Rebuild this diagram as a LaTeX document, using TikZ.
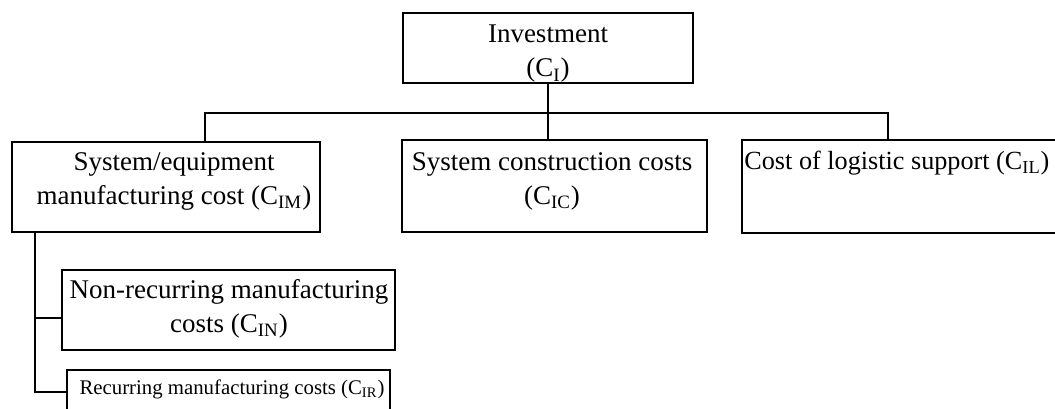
\documentclass[tikz,border=0pt]{standalone}
\usepackage{fontspec}
\setmainfont{Liberation Serif}
\begin{document}
\begin{tikzpicture}[x=0.5pt,y=-0.5pt,
  box/.style 2 args={draw, line width=1.1pt, inner sep=0pt,
    minimum width=#1*0.5pt, minimum height=#2*0.5pt},
  txt/.style={inner sep=0pt, align=center, font=\fontsize{13.5}{17}\selectfont},
  smalltxt/.style={inner sep=0pt, font=\fontsize{10.4}{12}\selectfont},
  link/.style={line width=1.1pt}]
\useasboundingbox (0,0) rectangle (1055,408);

% boxes
\node[box={290}{70}]  (inv)  at (548,48)   {};
\node[box={308}{90}]  (sys)  at (166,187)  {};
\node[box={305}{92}]  (con)  at (554.5,186) {};
\node[box={318}{93}]  (log)  at (901,186.5) {};
\node[box={333}{80}]  (nrec) at (228.5,310) {};
\node[box={323}{44}]  (rec)  at (228.5,392) {};

% labels
\node[txt] (tinv)  at (548,54)  {Investment\\(C\textsubscript{I})};
\node[txt] (tsys)  at (174,181) {System/equipment\\manufacturing cost (C\textsubscript{IM})};
\node[txt] (tcon)  at (552,181) {System construction costs\\(C\textsubscript{IC})};
\node[txt, anchor=west, font=\fontsize{13.1}{17}\selectfont] (tlog) at (744,163) {Cost of logistic support (C\textsubscript{IL})};
\node[txt] (tnrec) at (229,309) {Non-recurring manufacturing\\costs (C\textsubscript{IN})};
\node[smalltxt] (trec) at (232,389) {Recurring manufacturing costs (C\textsubscript{IR})};

% top-level connectors
\coordinate (busL) at (205,113);
\coordinate (busR) at (888,113);
\draw[link] (inv.south) -- (inv.south |- con.north);
\draw[link] (busL |- sys.north) -- (busL) -- (busR) -- (busR |- log.north);

% sub-tree under the manufacturing cost
\coordinate (trunk) at (35,392);
\coordinate (nb) at (35,318);
\draw[link] (sys.south -| trunk) -- (trunk) -- (rec.west);
\draw[link] (nb) -- (nb -| nrec.west);
\end{tikzpicture}
\end{document}
